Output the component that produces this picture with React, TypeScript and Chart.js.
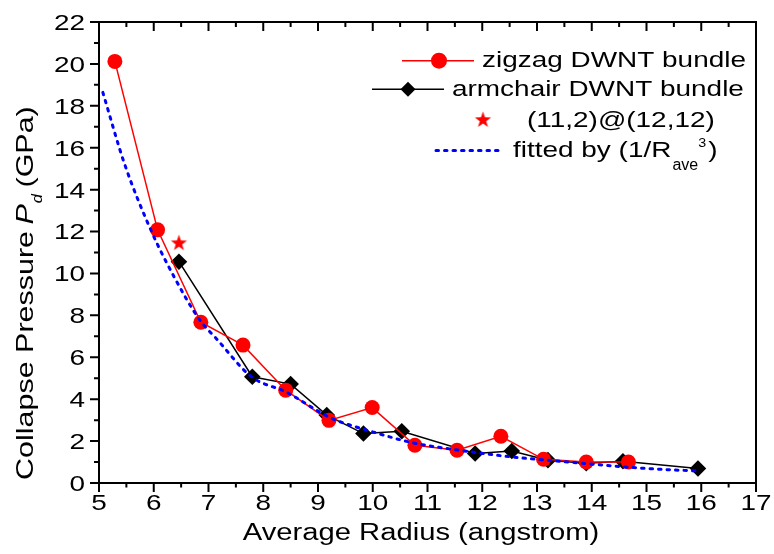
import React, { useEffect, useRef } from 'react';
import { Chart, registerables } from 'chart.js';

Chart.register(...registerables);

// ---------- data ----------
const zigzagRadius = [5.29, 6.07, 6.86, 7.63, 8.41, 9.2, 9.99, 10.77, 11.54, 12.34, 13.12, 13.9, 14.67];
const zigzagPressure = [20.12, 12.08, 7.67, 6.58, 4.43, 2.99, 3.6, 1.8, 1.56, 2.23, 1.13, 1.0, 1.0];

const armchairRadius = [6.46, 7.8, 8.5, 9.16, 9.83, 10.53, 11.87, 12.54, 13.2, 13.9, 14.57, 15.94];
const armchairPressure = [10.56, 5.07, 4.72, 3.24, 2.36, 2.47, 1.41, 1.53, 1.09, 0.94, 1.04, 0.69];

const mixedRadius = [6.46];
const mixedPressure = [11.47];

const fitRadius = [5.07, 5.47, 5.96, 6.38, 6.84, 7.14, 7.79, 8.41, 9.24, 10.0, 10.73, 11.59, 12.55, 13.17, 13.9, 14.63, 15.36, 15.9];
const fitPressure = [18.64, 15.2, 12.0, 9.8, 7.78, 6.9, 5.06, 4.35, 3.1, 2.44, 1.92, 1.56, 1.24, 1.09, 0.93, 0.76, 0.64, 0.58];

const xTickValues = [5, 6, 7, 8, 9, 10, 11, 12, 13, 14, 15, 16, 17];
const xTickLabels = ['5', '6', '7', '8', '9', '10', '11', '12', '13', '14', '15', '16', '17'];
const yTickValues = [0, 2, 4, 6, 8, 10, 12, 14, 16, 18, 20, 22];
const yTickLabels = ['0', '2', '4', '6', '8', '10', '12', '14', '16', '18', '20', '22'];

const X_MIN = 5;
const X_MAX = 17;
const Y_MIN = 0;
const Y_MAX = 22;
const X_MINOR_STEP = 0.5;
const Y_MINOR_STEP = 1;

const legendZigzag = 'zigzag DWNT bundle';
const legendArmchair = 'armchair DWNT bundle';
const legendMixed = '(11,2)@(12,12)';
const legendFitMain = 'fitted by (1/R';
const legendFitSub = 'ave';
const legendFitSup = '3';
const legendFitEnd = ')';

const xTitle = 'Average Radius (angstrom)';
const yTitleMain = 'Collapse Pressure ';
const yTitleP = 'P';
const yTitleSub = 'd';
const yTitleEnd = ' (GPa)';

// ---------- styling ----------
const FAM = '"Liberation Sans", Arial, Helvetica, sans-serif';
const SX = 1.27; // horizontal stretch of the reference lettering
const RED = '#ff0000';
const BLUE = '#0000ff';

function toXY(xs: number[], ys: number[]) {
  return xs.map((x, i) => ({ x, y: ys[i] }));
}

function makeStar(r: number, color: string) {
  const size = Math.ceil(r * 2 + 2);
  const c = document.createElement('canvas');
  c.width = size;
  c.height = size;
  const g = c.getContext('2d')!;
  g.fillStyle = color;
  g.beginPath();
  for (let i = 0; i < 10; i++) {
    const rad = i % 2 === 0 ? r : r * 0.4;
    const a = -Math.PI / 2 + (i * Math.PI) / 5;
    const px = size / 2 + rad * Math.cos(a);
    const py = size / 2 + 0.6 + rad * Math.sin(a);
    if (i === 0) g.moveTo(px, py);
    else g.lineTo(px, py);
  }
  g.closePath();
  g.fill();
  return c;
}

function sText(
  ctx: CanvasRenderingContext2D,
  text: string,
  x: number,
  y: number,
  font: string,
  align: 'left' | 'center' | 'right' = 'left',
  sx: number = SX
) {
  ctx.save();
  ctx.font = font;
  ctx.textBaseline = 'alphabetic';
  ctx.textAlign = 'left';
  const w = ctx.measureText(text).width * sx;
  let x0 = x;
  if (align === 'center') x0 = x - w / 2;
  else if (align === 'right') x0 = x - w;
  ctx.translate(x0, y);
  ctx.scale(sx, 1);
  ctx.fillStyle = '#000';
  ctx.fillText(text, 0, 0);
  ctx.restore();
  return w;
}

export default function App() {
  const ref = useRef<HTMLCanvasElement | null>(null);

  useEffect(() => {
    document.body.style.margin = '0';
    const canvas = ref.current;
    if (!canvas) return;
    const star = makeStar(8.5, RED);

    const framePlugin = {
      id: 'frameAndTicks',
      beforeDatasetsDraw(chart: any) {
        const { ctx, chartArea: a, scales } = chart;
        const xs = scales.x;
        const ys = scales.y;
        ctx.save();
        ctx.strokeStyle = '#000';
        ctx.lineWidth = 2;
        ctx.strokeRect(a.left, a.top, a.right - a.left, a.bottom - a.top);
        ctx.beginPath();
        const nx = Math.round((X_MAX - X_MIN) / X_MINOR_STEP);
        for (let i = 0; i <= nx; i++) {
          const v = X_MIN + i * X_MINOR_STEP;
          const major = i % 2 === 0;
          const px = xs.getPixelForValue(v);
          ctx.moveTo(px, a.bottom);
          ctx.lineTo(px, a.bottom + (major ? 9 : 4.5));
          ctx.moveTo(px, a.top);
          ctx.lineTo(px, a.top + (major ? 9 : 5));
        }
        const ny = Math.round((Y_MAX - Y_MIN) / Y_MINOR_STEP);
        for (let i = 0; i <= ny; i++) {
          const v = Y_MIN + i * Y_MINOR_STEP;
          const major = i % 2 === 0;
          const py = ys.getPixelForValue(v);
          ctx.moveTo(a.left, py);
          ctx.lineTo(a.left - (major ? 9 : 5), py);
        }
        ctx.stroke();
        ctx.restore();
      },
      afterDraw(chart: any) {
        const { ctx, chartArea: a, scales } = chart;
        const xs = scales.x;
        const ys = scales.y;
        const tickFont = `22px ${FAM}`;
        // tick labels
        xTickValues.forEach((v, i) => {
          sText(ctx, xTickLabels[i], xs.getPixelForValue(v), a.bottom + 26.5, tickFont, 'center');
        });
        yTickValues.forEach((v, i) => {
          sText(ctx, yTickLabels[i], a.left - 14, ys.getPixelForValue(v) + 7.9, tickFont, 'right');
        });
        // x title
        sText(ctx, xTitle, (a.left + a.right) / 2 - 6.5, a.bottom + 57, `23px ${FAM}`, 'center');
        // y title (rotated)
        ctx.save();
        ctx.translate(33, a.bottom - 3);
        ctx.rotate(-Math.PI / 2);
        let cx = 0;
        cx += sText(ctx, yTitleMain, cx, 0, `24px ${FAM}`);
        cx += sText(ctx, yTitleP, cx - 2, 0, `italic 24px ${FAM}`) - 1;
        cx += sText(ctx, yTitleSub, cx, 9, `italic 15px ${FAM}`, 'left', 1.1);
        sText(ctx, yTitleEnd, cx - 2, 0, `24px ${FAM}`);
        ctx.restore();

        // legend
        const R = a.right;
        const T = a.top;
        const legFont = `22px ${FAM}`;
        const rows = [T + 38.7, T + 67.3, T + 97.5, T + 128.5];
        ctx.save();
        // row 1 zigzag
        ctx.strokeStyle = RED;
        ctx.lineWidth = 1.5;
        ctx.beginPath();
        ctx.moveTo(R - 354, rows[0]);
        ctx.lineTo(R - 282, rows[0]);
        ctx.stroke();
        ctx.fillStyle = RED;
        ctx.beginPath();
        ctx.arc(R - 317, rows[0], 8, 0, Math.PI * 2);
        ctx.fill();
        // row 2 armchair
        ctx.strokeStyle = '#000';
        ctx.beginPath();
        ctx.moveTo(R - 384, rows[1]);
        ctx.lineTo(R - 312, rows[1]);
        ctx.stroke();
        ctx.fillStyle = '#000';
        const dx = R - 348;
        const dr = 7.5;
        ctx.beginPath();
        ctx.moveTo(dx - dr, rows[1]);
        ctx.lineTo(dx, rows[1] - dr);
        ctx.lineTo(dx + dr, rows[1]);
        ctx.lineTo(dx, rows[1] + dr);
        ctx.closePath();
        ctx.fill();
        // row 3 star
        ctx.drawImage(star, R - 273 - star.width / 2, rows[2] - star.height / 2);
        // row 4 fitted
        ctx.strokeStyle = BLUE;
        ctx.lineWidth = 3;
        ctx.lineCap = 'round';
        ctx.setLineDash([2.5, 6]);
        ctx.beginPath();
        ctx.moveTo(R - 320, rows[3]);
        ctx.lineTo(R - 253, rows[3]);
        ctx.stroke();
        ctx.restore();

        sText(ctx, legendZigzag, R - 274, rows[0] + 6.5, legFont);
        sText(ctx, legendArmchair, R - 304, rows[1] + 6.5, legFont);
        sText(ctx, legendMixed, R - 229, rows[2] + 7.5, legFont);
        let lx = R - 243;
        const base4 = rows[3] + 6.5;
        lx += sText(ctx, legendFitMain, lx, base4, legFont);
        lx += sText(ctx, legendFitSub, lx + 1, base4 + 13, `16px ${FAM}`, 'left', 1.0) + 1;
        lx += sText(ctx, legendFitSup, lx, base4 - 10, `13px ${FAM}`, 'left', 1.1);
        sText(ctx, legendFitEnd, lx + 2, base4, legFont);
      },
    };

    const chart = new Chart(canvas, {
      type: 'scatter',
      data: {
        datasets: [
          {
            label: legendMixed,
            data: toXY(mixedRadius, mixedPressure),
            showLine: false,
            pointStyle: star as any,
            pointRadius: 9,
            clip: false as any,
          },
          {
            label: 'fit',
            data: toXY(fitRadius, fitPressure),
            showLine: true,
            borderColor: BLUE,
            borderWidth: 3,
            borderDash: [2.5, 6],
            borderCapStyle: 'round',
            pointRadius: 0,
            cubicInterpolationMode: 'monotone',
            fill: false,
            clip: false as any,
          },
          {
            label: legendZigzag,
            data: toXY(zigzagRadius, zigzagPressure),
            showLine: true,
            borderColor: RED,
            backgroundColor: RED,
            borderWidth: 1.5,
            pointStyle: 'circle',
            pointRadius: 7.5,
            pointBorderWidth: 0,
            pointBackgroundColor: RED,
            tension: 0,
            clip: false as any,
          },
          {
            label: legendArmchair,
            data: toXY(armchairRadius, armchairPressure),
            showLine: true,
            borderColor: '#000',
            backgroundColor: '#000',
            borderWidth: 1.5,
            pointStyle: 'rectRot',
            pointRadius: 8.3,
            pointBorderWidth: 0,
            pointBackgroundColor: '#000',
            tension: 0,
            clip: false as any,
          },
        ],
      },
      options: {
        animation: false,
        responsive: false,
        devicePixelRatio: 1,
        events: [],
        layout: { padding: { left: 99, right: 18, top: 22, bottom: 71 } },
        plugins: {
          legend: { display: false },
          tooltip: { enabled: false },
          title: { display: false },
        },
        scales: {
          x: { type: 'linear', min: X_MIN, max: X_MAX, display: false },
          y: { type: 'linear', min: Y_MIN, max: Y_MAX, display: false },
        },
      },
      plugins: [framePlugin],
    });
    return () => chart.destroy();
  }, []);

  return (
    <div style={{ width: 774, height: 554, background: '#fff' }}>
      <canvas ref={ref} width={774} height={554} style={{ display: 'block' }} />
    </div>
  );
}
